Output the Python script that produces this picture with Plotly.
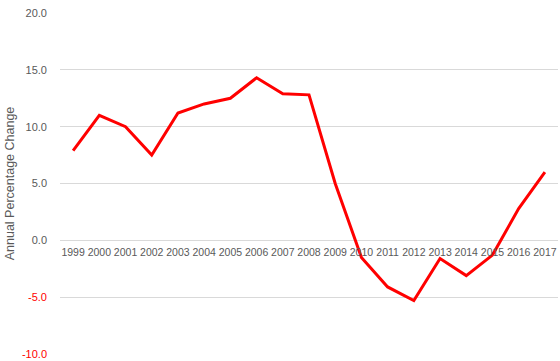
import plotly.graph_objects as go

years = [str(y) for y in range(1999, 2018)]
values = [7.9, 11.0, 10.0, 7.5, 11.2, 12.0, 12.5, 14.3, 12.9, 12.8, 5.0, -1.5, -4.1, -5.3, -1.6, -3.1, -1.3, 2.8, 6.0]
ytick_vals = [-10, -5, 0, 5, 10, 15, 20]
ytick_text = ['<span style="color:#FF0000">-10.0</span>', '<span style="color:#FF0000">-5.0</span>',
              '0.0', '5.0', '10.0', '15.0', '20.0']

fig = go.Figure()
fig.add_trace(go.Scatter(x=years, y=values, mode="lines",
                         line=dict(color="#FF0000", width=3), hoverinfo="skip"))

ymin, ymax = -10, 20
fig.update_layout(
    width=560, height=361,
    margin=dict(l=60, r=2, t=13, b=7, autoexpand=False),
    paper_bgcolor="white", plot_bgcolor="white",
    showlegend=False,
    font=dict(family="Liberation Sans, Arial, sans-serif", size=11, color="#595959"),
    xaxis=dict(type="category", range=[-0.5, len(years) - 0.5], automargin=False,
               showgrid=False, showline=False, zeroline=False,
               ticks="", anchor="free", position=(0 - ymin) / (ymax - ymin),
               tickfont=dict(size=10.5, color="#595959"), ticklabelstandoff=4),
    yaxis=dict(range=[ymin, ymax], tickvals=ytick_vals, ticktext=ytick_text, automargin=True,
               showgrid=True, gridcolor="#D9D9D9", gridwidth=1, zeroline=False,
               showline=False, ticks="", ticklabelstandoff=12,
               title=dict(text="Annual Percentage Change", font=dict(size=12.5, color="#595959"), standoff=4)),
)

fig.write_html("out.html", config={"displayModeBar": False},
               post_script="document.body.style.margin='0';document.body.style.overflow='hidden';")
